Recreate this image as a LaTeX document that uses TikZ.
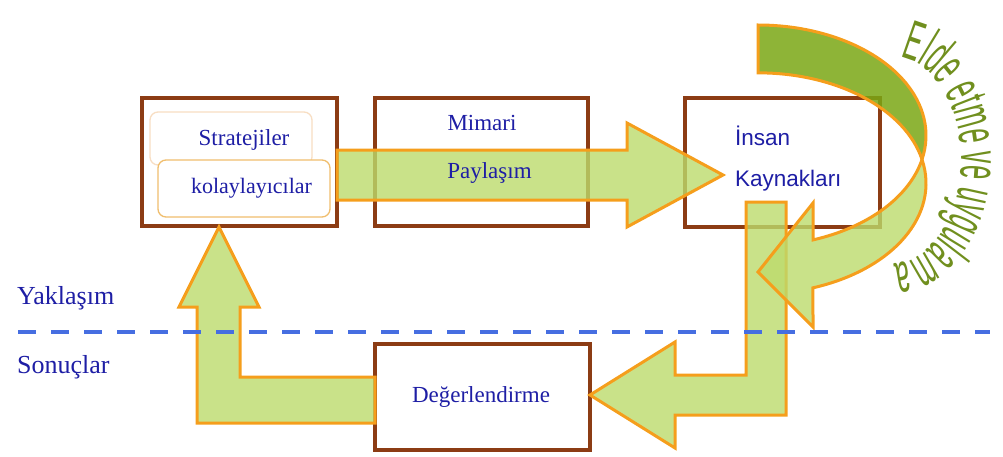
\documentclass[tikz,border=0pt]{standalone}
\usepackage{fontspec}
\setmainfont{Liberation Serif}
\newfontfamily\sansf{Liberation Sans}
\newfontfamily\curvefont[FakeStretch=0.45]{Liberation Sans}
\usetikzlibrary{decorations.text}

\definecolor{brownline}{RGB}{140,60,20}
\definecolor{txtblue}{RGB}{30,30,165}
\definecolor{lightgreen}{RGB}{188,219,108}
\definecolor{darkgreen}{RGB}{122,167,20}
\definecolor{orangeline}{RGB}{245,158,28}
\definecolor{dashblue}{RGB}{70,110,225}
\definecolor{olivetext}{RGB}{112,143,30}
\definecolor{softpeach}{RGB}{248,222,195}
\definecolor{softorange}{RGB}{240,190,110}

\tikzset{
  box/.style={draw=brownline, line width=3.5pt, fill=white, inner sep=0pt},
  subbox/.style={rounded corners=8pt, fill=white, inner sep=0pt, line width=1.3pt},
  lbl/.style={text=txtblue, inner sep=0pt, font=\fontsize{23}{23}\selectfont},
  sidelbl/.style={text=txtblue, inner sep=0pt, font=\fontsize{26}{26}\selectfont, anchor=base west},
  sanslbl/.style={text=txtblue, inner sep=0pt, font=\sansf\fontsize{22.5}{22.5}\selectfont, anchor=base west},
  blockarrow/.style={draw=orangeline, line width=3pt, line join=miter, fill=lightgreen, fill opacity=0.8},
  backface/.style={draw=orangeline, line width=3pt, fill=darkgreen, fill opacity=0.85},
  divider/.style={draw=dashblue, line width=4pt, dash pattern=on 18pt off 15pt}
}

\begin{document}
\begin{tikzpicture}[x=1pt, y=1pt]
  \useasboundingbox (0,0) rectangle (1003,456);

  % boxes
  \node[box, minimum width=195pt, minimum height=128pt] (strat) at (239.5,294) {};
  \node[subbox, draw=softpeach, minimum width=162pt, minimum height=53pt] (sbox) at (231,317.5) {};
  \node[subbox, draw=softorange, minimum width=172pt, minimum height=57pt] (kbox) at (244,267.5) {};
  \node[box, minimum width=213pt, minimum height=128pt] (mimari) at (481.5,294) {};
  \node[box, minimum width=195pt, minimum height=129pt] (insan) at (782.5,293.5) {};
  \node[box, minimum width=215pt, minimum height=106pt] (deger) at (482.5,59) {};

  % block arrow across the top row
  \path[blockarrow] (337,306) -- (627,306) -- (627,333) -- (723,281)
    -- (627,229) -- (627,256) -- (337,256) -- cycle;

  % bent arrow from the evaluation box back up to the strategy box
  \path[blockarrow] (375,79) -- (240,79) -- (240,149) -- (259,149) -- (219,229)
    -- (179,149) -- (197,149) -- (197,33) -- (375,33) -- cycle;

  % bent arrow from human resources down to the evaluation box
  \path[blockarrow] (746,254) -- (786,254) -- (786,41) -- (675,41) -- (675,8)
    -- (590,61) -- (675,114) -- (675,81) -- (746,81) -- cycle;

  % curved arrow: back face
  \path[backface] (758,431)
    arc[start angle=90, end angle=-12.5, x radius=168, y radius=110.5]
    arc[start angle=12.5, end angle=90, x radius=168, y radius=110.5] -- cycle;
  % curved arrow: front face with head
  \path[blockarrow] (922,296.5)
    arc[start angle=12.5, end angle=-70.9, x radius=168, y radius=110.5]
    -- (813,129) -- (758,184) -- (813,253) -- (813,216.1)
    arc[start angle=-70.9, end angle=-12.5, x radius=168, y radius=110.5] -- cycle;

  % curved caption around the arrow
  \path[decorate, decoration={text along path, text align=left, text color=olivetext,
      text={|\curvefont\fontsize{56}{56}\selectfont|Elde etme ve uygulama}}]
    (900.2,398.4) arc[start angle=84, end angle=-110, x radius=68, y radius=103];

  % divider between approach and results
  \coordinate (dl) at (18,124);
  \coordinate (dr) at (990,124);
  \draw[divider] (dl) -- (dr);

  % labels
  \node[lbl, anchor=base] (tstrat) at (244,311) {Stratejiler};
  \node[lbl, anchor=base, font=\fontsize{22}{22}\selectfont] (tkol) at (251.5,263) {kolaylayıcılar};
  \node[lbl, anchor=base] (tmim) at (482,325) {Mimari};
  \node[lbl, anchor=base] (tpay) at (489.5,278) {Paylaşım};
  \node[lbl, anchor=base] (tdeg) at (481,54) {Değerlendirme};
  \node[sanslbl] (tins) at (735,311) {İnsan};
  \node[sanslbl] (tkay) at (735,270) {Kaynakları};
  \node[sidelbl] (tyak) at (17,152) {Yaklaşım};
  \node[sidelbl] (tson) at (17,83) {Sonuçlar};
\end{tikzpicture}
\end{document}
